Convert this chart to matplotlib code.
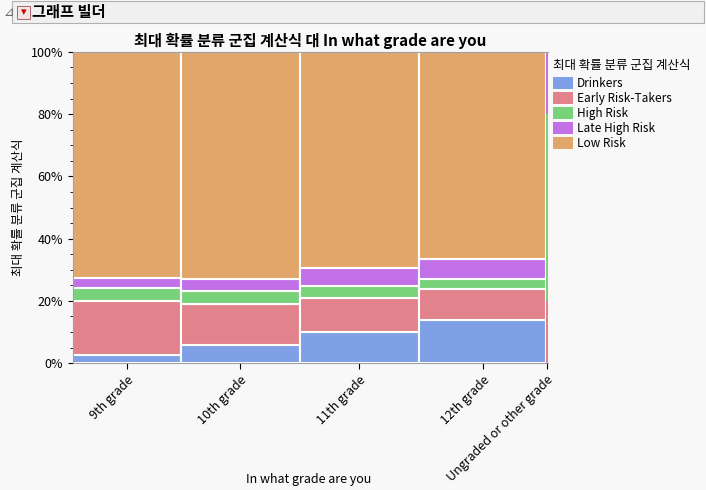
import matplotlib.pyplot as plt
from matplotlib.patches import Rectangle
import numpy as np

plt.rcParams['font.family'] = ['Noto Sans CJK KR', 'DejaVu Sans']

grades = ['9th grade', '10th grade', '11th grade', '12th grade', 'Ungraded or other grade']
widths = [107, 117, 118, 125, 2]  # relative group sizes
clusters = ['Drinkers', 'Early Risk-Takers', 'High Risk', 'Late High Risk', 'Low Risk']
colors = ['#7f9fe6', '#e2828c', '#78d27a', '#c170e8', '#e2a66a']
# shares in % per grade, order of clusters
drinkers = [2.6, 5.8, 10.0, 13.8, 0.0]
early = [17.4, 13.2, 11.0, 10.0, 20.0]
high = [4.0, 4.2, 3.8, 3.2, 60.0]
late = [3.3, 3.8, 5.7, 6.4, 20.0]
low = [100 - sum(v) for v in zip(drinkers, early, high, late)]
shares = [drinkers, early, high, late, low]

fig = plt.figure(figsize=(7.06, 4.9), dpi=100)
fig.patch.set_facecolor('#f8f8f8')
fig.add_artist(Rectangle((0.017, 0.953), 0.98, 0.045, transform=fig.transFigure,
                         facecolor='#f0f0f0', edgecolor='#b0b0b0', lw=0.8))
fig.text(0.005, 0.975, '⊿', fontsize=9, color='#666666', va='center', family=['DejaVu Sans'])
fig.add_artist(Rectangle((0.024, 0.962), 0.018, 0.026, transform=fig.transFigure,
                         facecolor='#f4e4e4', edgecolor='#a05050', lw=0.6))
fig.text(0.033, 0.975, '▾', fontsize=8, color='#cc0000', va='center', ha='center', family=['DejaVu Sans'])
fig.text(0.045, 0.975, '그래프 빌더', fontsize=11, fontweight='bold', va='center')

ax = fig.add_axes([0.103, 0.259, 0.673, 0.635])
ax.set_facecolor('#f8f8f8')
total = sum(widths)
x0 = 0
centers = []
for i, w in enumerate(widths):
    wf = w / total
    y0 = 0
    lw = 1.5 if w > 10 else 0
    for k in range(len(clusters)):
        h = shares[k][i] / 100
        ax.add_patch(Rectangle((x0, y0), wf, h, facecolor=colors[k], edgecolor='white', lw=lw))
        y0 += h
    centers.append(x0 + wf / 2)
    x0 += wf
ax.set_xlim(0, 1)
ax.set_ylim(0, 1)
ax.set_yticks(np.arange(0, 1.01, 0.2))
ax.set_yticklabels([f'{int(v*100)}%' for v in np.arange(0, 1.01, 0.2)], fontsize=9)
ax.set_yticks(np.arange(0, 1.01, 0.05), minor=True)
ax.set_xticks(centers)
ax.set_xticklabels(grades, rotation=45, ha='right', rotation_mode='anchor', fontsize=9)
ax.tick_params(axis='x', length=4)
for s in ax.spines.values():
    s.set_color('#a0a0a0')
ax.spines['right'].set_visible(False)
ax.set_ylabel('최대 확률 분류 군집 계산식', fontsize=9)
ax.set_title('최대 확률 분류 군집 계산식 대 In what grade are you', fontsize=11, fontweight='bold', pad=4)
fig.text(0.437, 0.015, 'In what grade are you', fontsize=9, ha='center')

fig.text(0.783, 0.86, '최대 확률 분류 군집 계산식', fontsize=9)
for k, (c, lab) in enumerate(zip(colors, clusters)):
    yy = 0.818 - k * 0.0305
    fig.add_artist(Rectangle((0.783, yy), 0.028, 0.024, transform=fig.transFigure, facecolor=c))
    fig.text(0.817, yy + 0.012, lab, fontsize=8.5, va='center')

fig.savefig('out.png', dpi=100, facecolor=fig.get_facecolor())
